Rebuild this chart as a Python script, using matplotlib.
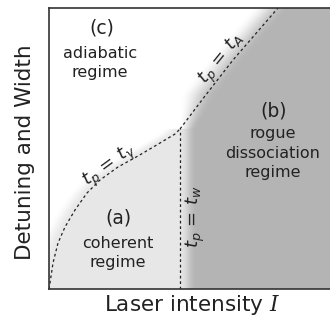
import matplotlib
matplotlib.use("Agg")
import matplotlib.pyplot as plt
import numpy as np

# boundary t_p = t_gamma (coherent / adiabatic)
gam_x = [0, 1, 4, 9, 16, 26, 38, 51, 69, 89, 106, 126, 131]
gam_y = [0, 6, 26, 46, 62, 79, 96, 109, 122, 133, 143, 155, 160]
# boundary t_p = t_A (adiabatic / rogue)
ad_x = [131, 156, 184, 229]
ad_y = [160, 193, 229, 281]
# boundary t_p = t_w (coherent / rogue)
w_x = [131, 131]
w_y = [0, 160]

XMAX, YMAX = 286, 281

# shading field
xx, yy = np.meshgrid(np.linspace(0, XMAX, 572), np.linspace(0, YMAX, 562))

def smooth(t):
    t = np.clip(t, 0, 1)
    return t * t * (3 - 2 * t)

xb = np.interp(yy, [0, 160] + ad_y[1:], [131, 131] + ad_x[1:])
off = np.interp(yy, [0, 158, 195, 281], [0, 0, -26, -26])
wid = np.interp(yy, [0, 158, 195, 281], [16, 16, 36, 36])
sB = smooth((xx - xb - off) / wid)

xc = np.interp(yy, gam_y, gam_x, right=1e4)
sA = smooth((xx - xc + 18) / 18)
sA = sA * smooth((185 - yy) / 25)

v = 1.0 - 0.095 * sA
v = v * (1 - sB) + 0.71 * sB

fig = plt.figure(figsize=(3.3, 3.2), dpi=100)
ax = fig.add_axes([49 / 330, 31 / 320, XMAX / 330, YMAX / 320])
ax.imshow(v, cmap="gray", vmin=0, vmax=1, origin="lower",
          extent=[0, XMAX, 0, YMAX], aspect="auto", interpolation="bilinear")

ls = dict(color="#222222", lw=0.9, ls=(0, (2.2, 2.2)))
ax.plot(gam_x, gam_y, **ls)
ax.plot(ad_x, ad_y, **ls)
ax.plot(w_x, w_y, **ls)

ax.set_xlim(0, XMAX)
ax.set_ylim(0, YMAX)
ax.set_xticks([])
ax.set_yticks([])
for s in ax.spines.values():
    s.set_linewidth(1.2)
    s.set_color("#333333")

tc = "#222222"
ax.text(53, 261, "(c)", ha="center", va="center", fontsize=13.5, color=tc)
ax.text(51, 226, "adiabatic\nregime", ha="center", va="center", fontsize=11.5,
        color=tc, linespacing=1.35)
ax.text(225, 178, "(b)", ha="center", va="center", fontsize=13.5, color=tc)
ax.text(224, 136, "rogue\ndissociation\nregime", ha="center", va="center",
        fontsize=11.5, color=tc, linespacing=1.35)
ax.text(69, 71, "(a)", ha="center", va="center", fontsize=13.5, color=tc)
ax.text(69, 36, "coherent\nregime", ha="center", va="center", fontsize=11.5,
        color=tc, linespacing=1.35)

ax.text(173, 230, r"$t_p\,=\,t_A$", ha="center", va="center", rotation=51,
        fontsize=13, color=tc, math_fontfamily="dejavusans")
ax.text(61, 123, r"$t_p\,=\,t_\gamma$", ha="center", va="center", rotation=36,
        fontsize=13, color=tc, math_fontfamily="dejavusans")
ax.text(146, 72, r"$t_p\,=\,t_w$", ha="center", va="center", rotation=90,
        fontsize=13, color=tc, math_fontfamily="dejavusans")

fig.text(192 / 330, 1 - 305 / 320, r"Laser intensity $I$", ha="center",
         va="center", fontsize=15.5, color=tc, math_fontfamily="dejavuserif")
fig.text(25 / 330, 1 - 152 / 320, "Detuning and Width", ha="center",
         va="center", rotation=90, fontsize=15.5, color=tc)

fig.savefig("out.png", dpi=100)
